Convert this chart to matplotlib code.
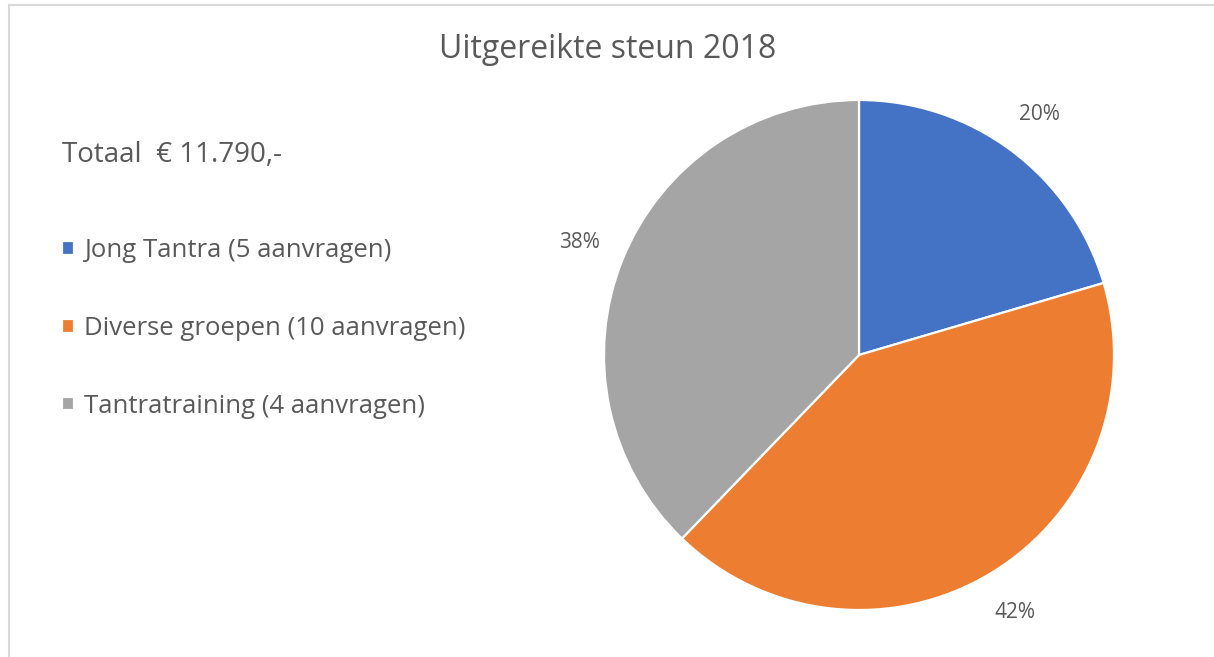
import matplotlib.pyplot as plt
from matplotlib.lines import Line2D

categories = ['Jong Tantra (5 aanvragen)', 'Diverse groepen (10 aanvragen)', 'Tantratraining (4 aanvragen)']
amounts = [2410, 4925, 4455]  # euro, total 11.790
colors = ['#4472C4', '#ED7D31', '#A5A5A5']
title = 'Uitgereikte steun 2018'
total_text = 'Totaal  \u20ac 11.790,-'

plt.rcParams['font.family'] = ['Open Sans', 'DejaVu Sans']
text_color = '#595959'

W, H = 1214, 657
fig = plt.figure(figsize=(W / 100, H / 100), dpi=100)
ax = fig.add_axes([0, 0, 1, 1])

wedges, texts, autotexts = ax.pie(
    amounts, colors=colors, startangle=90, counterclock=False,
    center=(859, H - 355), radius=255,
    autopct='%.0f%%', pctdistance=1.18,
    wedgeprops=dict(edgecolor='white', linewidth=1.6),
    textprops=dict(color=text_color, fontsize=15))

ax.set_xlim(0, W)
ax.set_ylim(0, H)
ax.set_aspect('equal')
ax.axis('off')

# chart frame (only top and left edges visible)
ax.add_line(Line2D([9, W], [H - 5, H - 5], color='#d9d9d9', lw=1.5))
ax.add_line(Line2D([9, 9], [0, H - 5], color='#d9d9d9', lw=1.5))

ax.text(608, H - 50, title, ha='center', va='center', fontsize=23, color=text_color)
ax.text(62, H - 155, total_text, ha='left', va='center', fontsize=20, color=text_color)

leg = ax.legend(wedges, categories, loc='upper left', bbox_to_anchor=(52 / W, 1 - 228 / H),
                frameon=False, fontsize=18.5, labelcolor=text_color,
                handlelength=0.45, handleheight=0.45, handletextpad=0.4,
                labelspacing=2.05, borderaxespad=0)

fig.savefig('out.png', dpi=100)
